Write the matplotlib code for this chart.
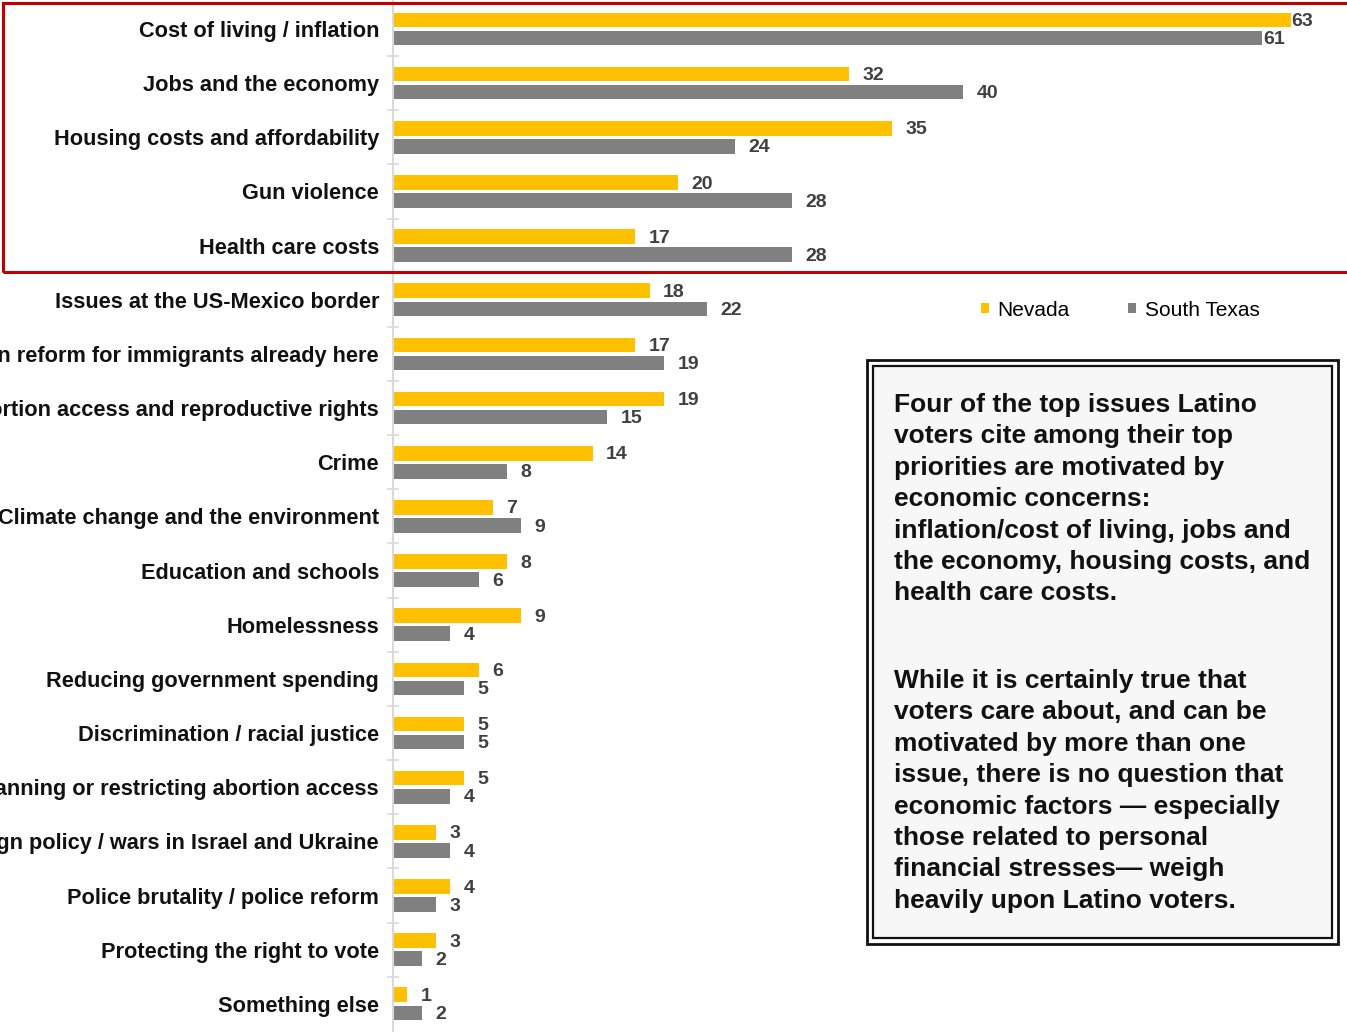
import matplotlib.pyplot as plt
from matplotlib.patches import Rectangle
import numpy as np

plt.rcParams['font.family'] = ['Liberation Sans', 'DejaVu Sans']

categories = [
    'Cost of living / inflation',
    'Jobs and the economy',
    'Housing costs and affordability',
    'Gun violence',
    'Health care costs',
    'Issues at the US-Mexico border',
    'Immigration reform for immigrants already here',
    'Protecting abortion access and reproductive rights',
    'Crime',
    'Climate change and the environment',
    'Education and schools',
    'Homelessness',
    'Reducing government spending',
    'Discrimination / racial justice',
    'Banning or restricting abortion access',
    'Foreign policy / wars in Israel and Ukraine',
    'Police brutality / police reform',
    'Protecting the right to vote',
    'Something else',
]
nevada = [63, 32, 35, 20, 17, 18, 17, 19, 14, 7, 8, 9, 6, 5, 5, 3, 4, 3, 1]
south_texas = [61, 40, 24, 28, 28, 22, 19, 15, 8, 9, 6, 4, 5, 5, 4, 4, 3, 2, 2]

note_1 = ('Four of the top issues Latino\nvoters cite among their top\n'
          'priorities are motivated by\neconomic concerns:\n'
          'inflation/cost of living, jobs and\nthe economy, housing costs, and\n'
          'health care costs.')
note_2 = ('While it is certainly true that\nvoters care about, and can be\n'
          'motivated by more than one\nissue, there is no question that\n'
          'economic factors \u2014 especially\nthose related to personal\n'
          'financial stresses\u2014 weigh\nheavily upon Latino voters.')

yellow = '#FFC000'
grey = '#808080'
label_col = '#404040'

W, H = 1347, 1032
fig = plt.figure(figsize=(W / 100, H / 100), dpi=100)
ax = fig.add_axes([393 / W, 0, 1 - 393 / W, 1])

y = np.arange(len(categories))
off, h = 0.167, 0.27
ax.barh(y - off, nevada, height=h, color=yellow, label='Nevada')
ax.barh(y + off, south_texas, height=h, color=grey, label='South Texas')

ax.set_xlim(0, 954 / 14.25)
ax.set_ylim(18.52, -0.535)

# value labels, nudged a little below the bar centre like the original
for i, (a, b) in enumerate(zip(nevada, south_texas)):
    pad = 0.05 if a > 60 else 0.95
    ax.text(a + pad, i - off + 0.03, str(a), va='center', ha='left', fontsize=14,
            fontweight='bold', color=label_col)
    pad = 0.05 if b > 60 else 0.95
    ax.text(b + pad, i + off + 0.03, str(b), va='center', ha='left', fontsize=14,
            fontweight='bold', color=label_col)

ax.set_yticks(y)
ax.set_yticklabels(categories, fontsize=15.7, fontweight='bold', color='#111111')
ax.set_yticks(np.arange(len(categories) - 1) + 0.5, minor=True)
ax.tick_params(axis='y', which='major', length=0, pad=10)
ax.tick_params(axis='y', which='minor', length=9, direction='inout',
               color='#d9d9d9', width=1.2)
ax.set_xticks([])
for s in ['top', 'right', 'bottom']:
    ax.spines[s].set_visible(False)
ax.spines['left'].set_color('#d9d9d9')
ax.spines['left'].set_linewidth(1.5)

# legend
fig.legend(loc='center', bbox_to_anchor=(1120 / W, 1 - 310 / H), ncol=2,
           frameon=False, fontsize=15, handlelength=0.4, handleheight=0.4,
           columnspacing=2.8, handletextpad=0.4)

# red highlight box
fig.add_artist(Rectangle((3 / W, 1 - 272 / H), 1.0, 269 / H, transform=fig.transFigure,
                         fill=False, edgecolor='#C00000', linewidth=2.2, clip_on=False))

# note box with double border
fig.add_artist(Rectangle((867 / W, 1 - 944 / H), 471 / W, 584 / H, transform=fig.transFigure,
                         facecolor='white', edgecolor='#111111', linewidth=2))
fig.add_artist(Rectangle((873 / W, 1 - 938 / H), 459 / W, 572 / H, transform=fig.transFigure,
                         facecolor='#f7f7f7', edgecolor='#111111', linewidth=1.6))
fig.text(894 / W, 1 - 393 / H, note_1, ha='left', va='top', fontsize=19,
         fontweight='bold', color='#111111', linespacing=1.39)
fig.text(894 / W, 1 - 669 / H, note_2, ha='left', va='top', fontsize=19,
         fontweight='bold', color='#111111', linespacing=1.39)

fig.savefig('out.png', dpi=100)
